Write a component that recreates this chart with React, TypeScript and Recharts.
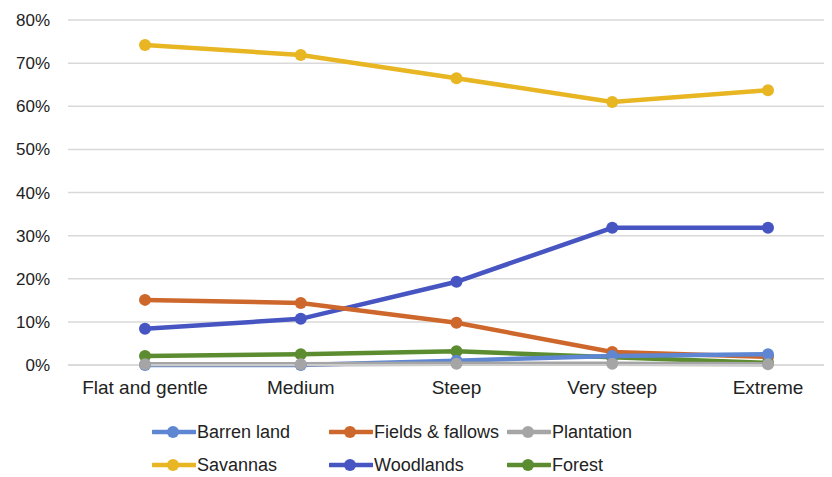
import React from "react";
import { LineChart, Line, XAxis, YAxis, CartesianGrid, Legend } from "recharts";

const categories = ["Flat and gentle", "Medium", "Steep", "Very steep", "Extreme"];
const barrenLand = [0.0, 0.0, 0.01, 0.021, 0.025];
const fieldsFallows = [0.151, 0.144, 0.098, 0.03, 0.019];
const plantation = [0.002, 0.002, 0.003, 0.003, 0.002];
const savannas = [0.742, 0.719, 0.665, 0.61, 0.637];
const woodlands = [0.084, 0.107, 0.193, 0.318, 0.318];
const forest = [0.021, 0.025, 0.032, 0.018, 0.005];
const yTicks = [0, 0.1, 0.2, 0.3, 0.4, 0.5, 0.6, 0.7, 0.8];

const seriesDefs = [
  { key: "barren", name: "Barren land", color: "#5E86D2", values: barrenLand },
  { key: "fields", name: "Fields & fallows", color: "#CD672B", values: fieldsFallows },
  { key: "plantation", name: "Plantation", color: "#A5A5A5", values: plantation },
  { key: "savannas", name: "Savannas", color: "#E8B523", values: savannas },
  { key: "woodlands", name: "Woodlands", color: "#4655C1", values: woodlands },
  { key: "forest", name: "Forest", color: "#5B8D30", values: forest },
];

const data = categories.map((c, i) => {
  const row: Record<string, number | string> = { category: c };
  seriesDefs.forEach((s) => {
    row[s.key] = s.values[i];
  });
  return row;
});

const drawOrder = ["savannas", "woodlands", "fields", "forest", "barren", "plantation"];

const legendCols = [144, 321, 499];

const LegendContent = () => (
  <div style={{ position: "relative", width: 700, height: 60 }}>
    {seriesDefs.map((s, i) => {
      const col = i % 3;
      const row = Math.floor(i / 3);
      return (
        <div
          key={s.key}
          style={{
            position: "absolute",
            left: legendCols[col],
            top: row * 33,
            display: "flex",
            alignItems: "center",
            height: 22,
            fontFamily: "'Liberation Sans', Arial, sans-serif",
            fontSize: 18,
            color: "#222",
            whiteSpace: "nowrap",
          }}
        >
          <svg width={44} height={14} style={{ marginRight: 1 }}>
            <line x1={1} y1={7} x2={43} y2={7} stroke={s.color} strokeWidth={4.5} strokeLinecap="round" />
            <circle cx={21} cy={7} r={6} fill={s.color} />
          </svg>
          <span>{s.name}</span>
        </div>
      );
    })}
  </div>
);

export default function App() {
  const lines = drawOrder.map((k) => seriesDefs.find((s) => s.key === k)!);
  return (
    <div style={{ width: 824, height: 469, overflow: "hidden", position: "relative" }}>
      <LineChart
        width={840}
        height={469}
        data={data}
        margin={{ top: 12, right: 3, bottom: 22, left: 0 }}
      >
        <CartesianGrid vertical={false} stroke="#d9d9d9" strokeWidth={1.5} />
        <XAxis
          dataKey="category"
          axisLine={{ stroke: "#d9d9d9", strokeWidth: 1.5 }}
          tickLine={false}
          tickMargin={10}
          height={30}
          interval={0}
          padding={{ left: 77, right: 77 }}
          tick={{ fill: "#222", fontSize: 19, fontFamily: "'Liberation Sans', Arial, sans-serif" }}
        />
        <YAxis
          domain={[0, 0.8]}
          ticks={yTicks}
          width={60}
          axisLine={false}
          tickLine={false}
          tickMargin={12}
          tickFormatter={(v: number) => `${Math.round(v * 100)}%`}
          tick={{ fill: "#222", fontSize: 17, fontFamily: "'Liberation Sans', Arial, sans-serif" }}
        />
        <Legend
          content={<LegendContent />}
          wrapperStyle={{ position: "absolute", left: 0, top: 413, width: 700 }}
        />
        {lines.map((s) => (
          <Line
            key={s.key}
            type="linear"
            dataKey={s.key}
            name={s.name}
            stroke={s.color}
            strokeWidth={4.5}
            dot={{ r: 6, fill: s.color, stroke: s.color, strokeWidth: 0 }}
            activeDot={false}
            isAnimationActive={false}
          />
        ))}
      </LineChart>
    </div>
  );
}
